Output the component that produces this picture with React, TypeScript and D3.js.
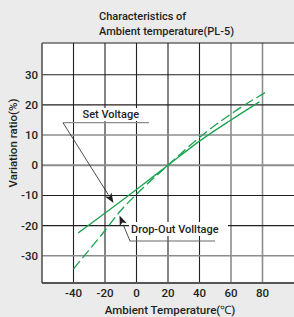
import { useEffect, useRef } from "react";
import * as d3 from "d3";

// chart values
const xTicks = [-40, -20, 0, 20, 40, 60, 80];
const yTicks = [30, 20, 10, 0, -10, -20, -30];
const grayX = [60, 80];
const grayY = [10, 0, -30];

const setTemp = [-37, 0, 20, 40, 60, 78];
const setRatio = [-22.4, -8, 0, 8, 15, 21];
const dropTemp = [-40, -20, -10, 0, 20, 40, 60, 82];
const dropRatio = [-34.3, -21.6, -15, -9.6, 0, 9.2, 17, 24.2];

const W = 294;
const H = 317;
const font = "Roboto, 'Open Sans', sans-serif";
const ink = "#231f20";
const green = "#17a34f";

const App = () => {
  const ref = useRef<SVGSVGElement | null>(null);

  useEffect(() => {
    const svg = d3.select(ref.current);
    svg.selectAll("*").remove();

    const x = d3.scaleLinear().domain([-60, 100]).range([42, 294]);
    const y = d3.scaleLinear().domain([-39, 40.5]).range([283, 43]);

    svg.append("rect").attr("width", W).attr("height", H).attr("fill", "#ebebeb");
    svg
      .append("rect")
      .attr("x", x(-60))
      .attr("y", y(40.5))
      .attr("width", x(100) - x(-60))
      .attr("height", y(-39) - y(40.5))
      .attr("fill", "#fff");

    // grid
    const grid = svg.append("g");
    xTicks.forEach((t) => {
      const gray = grayX.includes(t);
      grid
        .append("line")
        .attr("x1", x(t)).attr("x2", x(t))
        .attr("y1", y(40.5)).attr("y2", y(-39))
        .attr("stroke", gray ? "#8c8c8c" : ink)
        .attr("stroke-width", gray ? 1.6 : 1.1);
    });
    yTicks.forEach((t) => {
      const gray = grayY.includes(t);
      grid
        .append("line")
        .attr("x1", x(-60)).attr("x2", x(100))
        .attr("y1", y(t)).attr("y2", y(t))
        .attr("stroke", gray ? "#8c8c8c" : ink)
        .attr("stroke-width", t === 0 ? 2 : gray ? 1.5 : 1.1);
    });
    // frame
    grid.append("line").attr("x1", x(-60)).attr("x2", x(100)).attr("y1", y(40.5)).attr("y2", y(40.5))
      .attr("stroke", ink).attr("stroke-width", 1.2);
    grid.append("line").attr("x1", x(-60)).attr("x2", x(-60)).attr("y1", y(40.5)).attr("y2", y(-39))
      .attr("stroke", "#555").attr("stroke-width", 1.6);
    grid.append("line").attr("x1", x(-60)).attr("x2", x(100)).attr("y1", y(-39)).attr("y2", y(-39))
      .attr("stroke", "#555").attr("stroke-width", 1.8);

    // tick labels
    svg
      .append("g")
      .selectAll("text")
      .data(yTicks)
      .join("text")
      .attr("x", 38)
      .attr("y", (d) => y(d) + 4)
      .attr("text-anchor", "end")
      .attr("font-family", font)
      .attr("font-weight", 500)
      .attr("font-size", 11.5)
      .attr("fill", ink)
      .text((d) => d);
    svg
      .append("g")
      .selectAll("text")
      .data(xTicks)
      .join("text")
      .attr("x", (d) => x(d))
      .attr("y", 297)
      .attr("text-anchor", "middle")
      .attr("font-family", font)
      .attr("font-weight", 500)
      .attr("font-size", 11.5)
      .attr("fill", ink)
      .text((d) => d);

    // titles
    const title = svg.append("text").attr("font-family", font).attr("font-weight", 500)
      .attr("font-size", 11).attr("fill", ink);
    title.append("tspan").attr("x", 99).attr("y", 20).text("Characteristics of");
    title.append("tspan").attr("x", 99).attr("y", 35).text("Ambient temperature(PL-5)");

    svg.append("text").attr("x", 170).attr("y", 314).attr("text-anchor", "middle")
      .attr("font-family", font).attr("font-weight", 500).attr("font-size", 11.5).attr("fill", ink)
      .text("Ambient Temperature(℃)");
    svg.append("text").attr("transform", "translate(17,143) rotate(-90)").attr("text-anchor", "middle")
      .attr("font-family", font).attr("font-weight", 500).attr("font-size", 11.5).attr("fill", ink)
      .text("Variation ratio(%)");

    // curves
    const line = d3.line<[number, number]>().x((d) => x(d[0])).y((d) => y(d[1])).curve(d3.curveMonotoneX);
    svg.append("path")
      .attr("d", line(setTemp.map((t, i) => [t, setRatio[i]])))
      .attr("fill", "none").attr("stroke", green).attr("stroke-width", 1.3);
    svg.append("path")
      .attr("d", line(dropTemp.map((t, i) => [t, dropRatio[i]])))
      .attr("fill", "none").attr("stroke", green).attr("stroke-width", 1.3)
      .attr("stroke-dasharray", "10,4");

    // annotations
    const arrow = (x1: number, y1: number, x2: number, y2: number) => {
      const a = Math.atan2(y2 - y1, x2 - x1);
      const len = 10, half = 3.8;
      const bx = x2 - len * Math.cos(a), by = y2 - len * Math.sin(a);
      svg.append("line").attr("x1", x1).attr("y1", y1).attr("x2", bx).attr("y2", by)
        .attr("stroke", ink).attr("stroke-width", 0.8);
      svg.append("path")
        .attr("d", `M${x2},${y2}L${bx - half * Math.sin(a)},${by + half * Math.cos(a)}L${bx + 2.5 * Math.cos(a)},${by + 2.5 * Math.sin(a)}L${bx + half * Math.sin(a)},${by - half * Math.cos(a)}Z`)
        .attr("fill", ink);
    };

    svg.append("rect").attr("x", 80).attr("y", 108).attr("width", 64).attr("height", 13).attr("fill", "#fff");
    svg.append("text").attr("x", 82.5).attr("y", 118).attr("font-family", font).attr("font-weight", 500)
      .attr("font-size", 11).attr("fill", ink).text("Set Voltage");
    svg.append("line").attr("x1", 63).attr("x2", 149).attr("y1", 122.7).attr("y2", 122.7)
      .attr("stroke", "#8c8c8c").attr("stroke-width", 1.3);
    arrow(63, 122.7, 113.5, 203);

    svg.append("rect").attr("x", 129).attr("y", 222).attr("width", 99).attr("height", 14).attr("fill", "#fff");
    svg.append("text").attr("x", 131).attr("y", 233).attr("font-family", font).attr("font-weight", 500)
      .attr("font-size", 11).attr("fill", ink).text("Drop-Out Volltage");
    svg.append("line").attr("x1", 130).attr("x2", 215).attr("y1", 241).attr("y2", 241)
      .attr("stroke", "#666").attr("stroke-width", 1);
    arrow(130, 241, 119.5, 215.5);
  }, []);

  return (
    <svg
      ref={ref}
      width={W}
      height={H}
      style={{ position: "absolute", left: 0, top: 0, display: "block" }}
    />
  );
};

export default App;
